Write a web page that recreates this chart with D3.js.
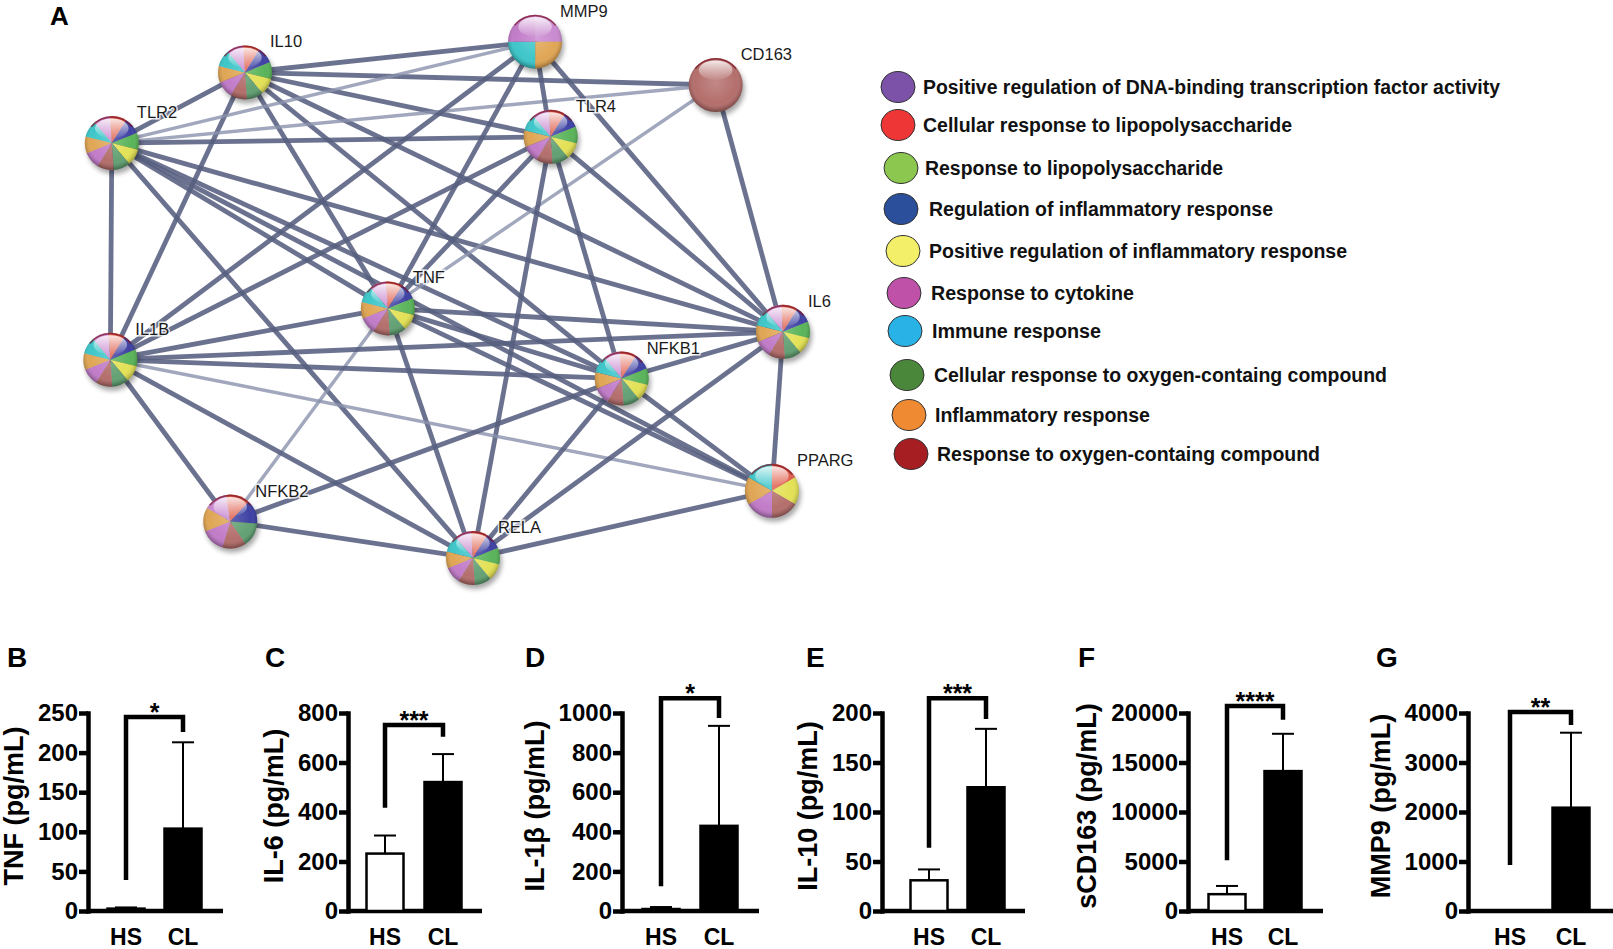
<!DOCTYPE html>
<html>
<head>
<meta charset="utf-8">
<script src="https://cdn.jsdelivr.net/npm/d3@7"></script>
<style>
  body { margin: 0; background: #fff; }
  svg { display: block; font-family: "Liberation Sans", Arial, sans-serif; }
</style>
</head>
<body>
<script>
const W = 1613, H = 949;

// ---- network data (A) ----
const genes = ["IL10", "MMP9", "CD163", "TLR2", "TLR4", "TNF", "IL1B", "IL6", "NFKB1", "PPARG", "NFKB2", "RELA"];
// layout units 0-100
const geneX = [22.3, 61.5, 85.9, 4.3, 63.6, 41.6, 4.1, 95.0, 73.2, 93.5, 20.3, 53.1];
const geneY = [9.2, 3.8, 11.4, 21.6, 20.5, 50.6, 59.6, 54.7, 62.9, 82.6, 88.0, 94.4];

const terms = [
  "Positive regulation of DNA-binding transcription factor activity",
  "Cellular response to lipopolysaccharide",
  "Response to lipopolysaccharide",
  "Regulation of inflammatory response",
  "Positive regulation of inflammatory response",
  "Response to cytokine",
  "Immune response",
  "Cellular response to oxygen-containg compound",
  "Inflammatory response",
  "Response to oxygen-containg compound"
];

// enriched terms of each gene, clockwise as drawn on the node
const full = [0, 1, 3, 2, 4, 7, 9, 5, 8, 6];
const geneTerms = [
  full,            // IL10
  [0, 8, 6, 5],    // MMP9
  [9],             // CD163
  full,            // TLR2
  full,            // TLR4
  full,            // TNF
  full,            // IL1B
  full,            // IL6
  full,            // NFKB1
  [1, 4, 9, 5, 8, 6], // PPARG
  [0, 1, 3, 7, 9, 5, 8], // NFKB2
  full             // RELA
];

// [source, target, strong(1)/weak(0)]
const links = [
  ["IL10", "TLR2", 1], ["IL10", "MMP9", 1], ["IL10", "CD163", 1], ["IL10", "TLR4", 1],
  ["IL10", "IL6", 1], ["IL10", "NFKB1", 1], ["IL10", "IL1B", 1], ["IL10", "TNF", 1],
  ["TLR2", "MMP9", 0], ["TLR2", "CD163", 0], ["TLR2", "TLR4", 1], ["TLR2", "IL1B", 1],
  ["TLR2", "IL6", 1], ["TLR2", "NFKB1", 1], ["TLR2", "TNF", 1], ["TLR2", "RELA", 1],
  ["TLR2", "PPARG", 1],
  ["MMP9", "TLR4", 1], ["MMP9", "IL1B", 1], ["MMP9", "TNF", 1], ["MMP9", "IL6", 1],
  ["CD163", "TNF", 0], ["CD163", "IL6", 1],
  ["TLR4", "IL1B", 1], ["TLR4", "TNF", 1], ["TLR4", "IL6", 1], ["TLR4", "NFKB1", 1], ["TLR4", "RELA", 1],
  ["TNF", "IL1B", 1], ["TNF", "IL6", 1], ["TNF", "NFKB1", 1], ["TNF", "PPARG", 1], ["TNF", "RELA", 1],
  ["TNF", "NFKB2", 0],
  ["IL1B", "IL6", 1], ["IL1B", "NFKB1", 1], ["IL1B", "PPARG", 0], ["IL1B", "RELA", 1], ["IL1B", "NFKB2", 1],
  ["IL6", "NFKB1", 1], ["IL6", "PPARG", 1], ["IL6", "RELA", 1],
  ["NFKB1", "PPARG", 1], ["NFKB1", "RELA", 1], ["NFKB1", "NFKB2", 1],
  ["RELA", "PPARG", 1], ["RELA", "NFKB2", 1]
];

// ---- bar chart data (B-G) ----
const panels = ["B", "C", "D", "E", "F", "G"];
const groups = ["HS", "CL"];
const yLabels = ["TNF (pg/mL)", "IL-6 (pg/mL)", "IL-1β (pg/mL)", "IL-10 (pg/mL)", "sCD163 (pg/mL)", "MMP9 (pg/mL)"];
const meanHS = [3, 232, 10, 31, 1700, 0];
const errHS = [4.5, 305, 20, 42, 2530, 0];
const meanCL = [104, 521, 430, 125, 14130, 2087];
const errCL = [213, 634, 935, 184, 17900, 3602];
const yMax = [250, 800, 1000, 200, 20000, 4000];
const yStep = [50, 200, 200, 50, 5000, 1000];
const stars = ["*", "***", "*", "***", "****", "**"];
const bracketTop = [245, 752, 1075, 215, 20700, 4020];
const bracketLeft = [39, 417, 125, 64, 5130, 929];
const bracketRight = [226, 704, 975, 194, 19330, 3758];

// ---- styles / layout ----
// colours indexed like terms
const legendColor = ["#7b52a8", "#ee3636", "#8cc850", "#2b4f9b", "#f3ef68", "#bf52a8", "#29b2e6", "#4a873a", "#ef8a32", "#a61d22"];
const nodeColor = ["#c98ad0", "#e0604e", "#5ab45a", "#3f42a3", "#e3e156", "#c27cc9", "#3ec6c9", "#63a174", "#e0a655", "#b46f6c"];

const svg = d3.select("body").append("svg").attr("width", W).attr("height", H);
const defs = svg.append("defs");

const shine = defs.append("radialGradient").attr("id", "shine").attr("cx", "50%").attr("cy", "45%").attr("r", "55%");
shine.append("stop").attr("offset", "0%").attr("stop-color", "#fff").attr("stop-opacity", 0.18);
shine.append("stop").attr("offset", "70%").attr("stop-color", "#fff").attr("stop-opacity", 0);
shine.append("stop").attr("offset", "88%").attr("stop-color", "#000").attr("stop-opacity", 0.12);
shine.append("stop").attr("offset", "100%").attr("stop-color", "#000").attr("stop-opacity", 0.35);

const hl = defs.append("linearGradient").attr("id", "hl").attr("x1", 0).attr("y1", 0).attr("x2", 0).attr("y2", 1);
hl.append("stop").attr("offset", "0%").attr("stop-color", "#fff").attr("stop-opacity", 0.85);
hl.append("stop").attr("offset", "100%").attr("stop-color", "#fff").attr("stop-opacity", 0.05);

defs.append("filter").attr("id", "blur").attr("x", "-50%").attr("y", "-50%").attr("width", "200%").attr("height", "200%")
  .append("feGaussianBlur").attr("stdDeviation", 2.5);

// ---- A: network ----
const nx = d3.scaleLinear().domain([0, 100]).range([80, 820]);
const ny = d3.scaleLinear().domain([0, 100]).range([20, 590]);
const pos = {};
genes.forEach((g, i) => pos[g] = [nx(geneX[i]), ny(geneY[i])]);
const R = 27;

svg.append("g").selectAll("line").data(links).join("line")
  .attr("x1", d => pos[d[0]][0]).attr("y1", d => pos[d[0]][1])
  .attr("x2", d => pos[d[1]][0]).attr("y2", d => pos[d[1]][1])
  .attr("stroke", d => d[2] ? "#565e80" : "#8a91ab")
  .attr("stroke-opacity", d => d[2] ? 0.88 : 0.8)
  .attr("stroke-width", d => d[2] ? 4.8 : 3.4);

const node = svg.append("g").selectAll("g").data(genes).join("g")
  .attr("transform", d => `translate(${pos[d][0]},${pos[d][1]})`);

node.append("circle").attr("cx", 2).attr("cy", 4).attr("r", R)
  .attr("fill", "#000").attr("opacity", 0.35).attr("filter", "url(#blur)");

const arc = d3.arc().innerRadius(0).outerRadius(R);
node.each(function (g, i) {
  const t = geneTerms[i];
  const start = t.length === 10 ? -40 : t.length === 7 ? -60 : 0;
  const pie = d3.pie().sort(null).value(1)
    .startAngle(start * Math.PI / 180).endAngle(start * Math.PI / 180 + 2 * Math.PI);
  d3.select(this).selectAll("path").data(pie(t)).join("path")
    .attr("d", arc).attr("fill", d => nodeColor[d.data]);
});
node.append("circle").attr("r", R).attr("fill", "url(#shine)");
node.append("ellipse").attr("cx", 0).attr("cy", -R * 0.55).attr("rx", R * 0.62).attr("ry", R * 0.36)
  .attr("fill", "url(#hl)");
node.append("path").attr("d", d3.arc().innerRadius(R - 1.6).outerRadius(R).startAngle(-0.9).endAngle(0.9)())
  .attr("fill", "#7a1020").attr("opacity", 0.7);

svg.append("g").selectAll("text").data(genes).join("text")
  .attr("x", d => pos[d][0] + 25).attr("y", d => pos[d][1] - 25)
  .attr("font-size", 16.5).attr("fill", "#1a1a1a")
  .attr("stroke", "#fff").attr("stroke-width", 3).attr("stroke-opacity", 0.8)
  .attr("paint-order", "stroke")
  .text(d => d);

// ---- legend ----
const legY = [87, 125, 168, 209, 251, 293, 331, 375, 415, 454];
const legCx = [898, 898, 901, 901, 903, 904, 905, 907, 909, 911];
const legTx = [923, 923, 925, 929, 929, 931, 932, 934, 935, 937];
const legTw = [577, 369, 298, 344, 418, 203, 169, 453, 215, 383];
const leg = svg.append("g").selectAll("g").data(terms).join("g");
leg.append("ellipse").attr("cx", (d, i) => legCx[i]).attr("cy", (d, i) => legY[i])
  .attr("rx", 17).attr("ry", 15.5)
  .attr("fill", (d, i) => legendColor[i]).attr("stroke", "#333").attr("stroke-width", 1);
leg.append("text").attr("x", (d, i) => legTx[i]).attr("y", (d, i) => legY[i] + 7)
  .attr("font-size", 20).attr("font-weight", "bold").attr("fill", "#111")
  .attr("textLength", (d, i) => legTw[i]).attr("lengthAdjust", "spacingAndGlyphs")
  .text(d => d);

// ---- panel letters ----
const letterX = [50, 7, 265, 525, 806, 1078, 1376];
const letterY = [25, 667, 667, 667, 667, 667, 667];
svg.append("g").selectAll("text").data(["A"].concat(panels)).join("text")
  .attr("x", (d, i) => letterX[i]).attr("y", (d, i) => letterY[i])
  .attr("font-size", (d, i) => i ? 28 : 26).attr("font-weight", "bold").text(d => d);

// ---- B-G bar charts ----
const axisX = [88, 348, 622, 882, 1188, 1468];
const hsOff = [38, 37, 39, 47, 39, 42];
const clOff = [95, 95, 97, 104, 95, 103];
const axisLen = [135, 134, 137, 143, 135, 145];
const yTop = 713, yBase = 911, barW = 37, lw = 4.5;

panels.forEach((p, i) => {
  const ax = axisX[i];
  const g = svg.append("g");
  const y = d3.scaleLinear().domain([0, yMax[i]]).range([yBase, yTop]);
  const x = d3.scalePoint().domain(groups).range([ax + hsOff[i], ax + clOff[i]]);

  const yAxis = g.append("g").attr("transform", `translate(${ax},0)`)
    .call(d3.axisLeft(y).tickValues(d3.range(0, yMax[i] + 1, yStep[i]))
      .tickSize(9).tickSizeOuter(0).tickPadding(1).tickFormat(d3.format("d")));
  yAxis.select(".domain").attr("stroke-width", lw).attr("stroke-linecap", "square");
  yAxis.selectAll(".tick line").attr("stroke-width", lw);
  yAxis.selectAll(".tick text").attr("font-size", 24).attr("font-weight", "bold")
    .attr("font-family", "Liberation Sans, Arial, sans-serif").attr("fill", "#000");

  g.append("line").attr("x1", ax).attr("x2", ax + axisLen[i]).attr("y1", yBase).attr("y2", yBase)
    .attr("stroke", "#000").attr("stroke-width", lw);

  const means = [meanHS[i], meanCL[i]];
  const errs = [errHS[i], errCL[i]];

  // error bars (upper only)
  groups.forEach((grp, j) => {
    if (errs[j] <= means[j]) return;
    g.append("line").attr("x1", x(grp)).attr("x2", x(grp))
      .attr("y1", y(means[j])).attr("y2", y(errs[j]))
      .attr("stroke", "#000").attr("stroke-width", 2);
    g.append("line").attr("x1", x(grp) - 11).attr("x2", x(grp) + 11)
      .attr("y1", y(errs[j])).attr("y2", y(errs[j]))
      .attr("stroke", "#000").attr("stroke-width", 2);
  });

  g.selectAll("rect").data(groups).join("rect")
    .attr("x", d => x(d) - barW / 2)
    .attr("y", (d, j) => y(means[j]))
    .attr("width", barW)
    .attr("height", (d, j) => yBase - y(means[j]))
    .attr("fill", (d, j) => j === 0 ? "#fff" : "#000")
    .attr("stroke", (d, j) => means[j] > 0 ? "#000" : "none")
    .attr("stroke-width", 2.5);

  // significance bracket
  const bx1 = x("HS"), bx2 = x("CL");
  g.append("path")
    .attr("d", `M${bx1},${y(bracketLeft[i])}V${y(bracketTop[i])}H${bx2}V${y(bracketRight[i])}`)
    .attr("fill", "none").attr("stroke", "#000").attr("stroke-width", lw);
  g.append("text").attr("x", (bx1 + bx2) / 2).attr("y", y(bracketTop[i]) + 4)
    .attr("text-anchor", "middle").attr("font-size", 25).attr("font-weight", "bold")
    .text(stars[i]);

  // x labels
  g.selectAll(".xl").data(groups).join("text").attr("class", "xl")
    .attr("x", d => x(d)).attr("y", 945).attr("text-anchor", "middle")
    .attr("font-size", 23).attr("font-weight", "bold").text(d => d);

  // y label
  const bb = yAxis.node().getBBox();
  const lx = ax + bb.x - 15;
  g.append("text").attr("transform", `translate(${lx},806) rotate(-90)`)
    .attr("text-anchor", "middle").attr("font-size", 27).attr("font-weight", "bold")
    .text(yLabels[i]);
});
</script>
</body>
</html>
